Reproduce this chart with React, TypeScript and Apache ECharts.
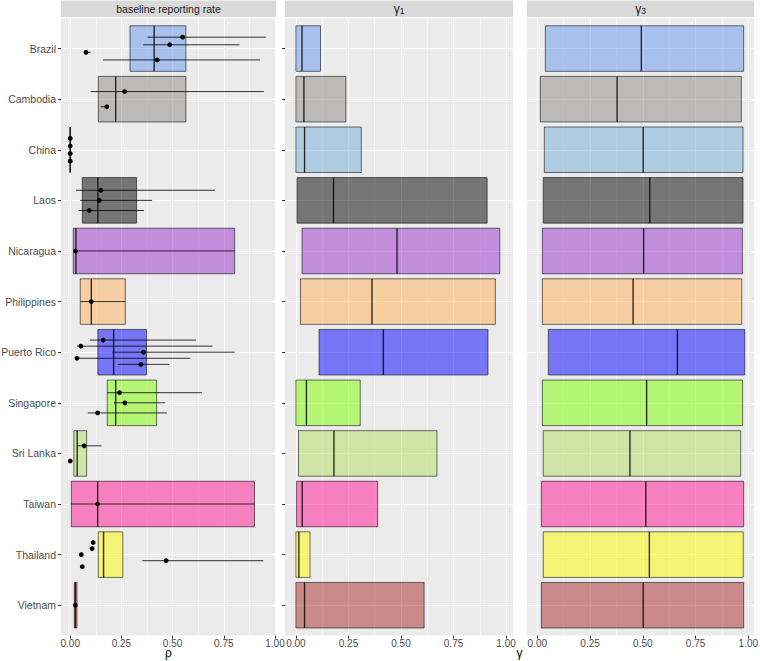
import React, { useEffect, useRef } from "react";
import * as echarts from "echarts";

const countries = [
  "Brazil", "Cambodia", "China", "Laos", "Nicaragua", "Philippines",
  "Puerto Rico", "Singapore", "Sri Lanka", "Taiwan", "Thailand", "Vietnam",
];
const fillColors = [
  "#6495ED", "#8D8985", "#75ADD5", "#000000", "#9932CC", "#FFB45A",
  "#0000FF", "#7FFF00", "#B5DD65", "#FF1493", "#FFFF00", "#A52A2A",
];

// baseline reporting rate (rho) boxes
const rhoBoxLow = [0.292, 0.137, 0, 0.059, 0.015, 0.049, 0.135, 0.181, 0.018, 0.005, 0.137, 0.02];
const rhoBoxHigh = [0.565, 0.565, 0, 0.324, 0.803, 0.269, 0.373, 0.422, 0.08, 0.9, 0.257, 0.033];
const rhoBoxMedian = [0.41, 0.222, 0, 0.135, 0.028, 0.103, 0.212, 0.222, 0.034, 0.134, 0.163, 0.025];

// per-country estimates of rho with intervals
const rhoEstimate = [
  [0.549, 0.486, 0.077, 0.425],
  [0.266, 0.179],
  [0, 0, 0, 0],
  [0.15, 0.142, 0.093],
  [0.026],
  [0.103],
  [0.161, 0.052, 0.358, 0.033, 0.345],
  [0.241, 0.267, 0.134],
  [0.068, 0.0],
  [0.134],
  [0.112, 0.107, 0.054, 0.468, 0.059],
  [0.025],
];
const rhoLower = [
  [0.378, 0.357, 0.067, 0.16],
  [0.1, 0.149],
  [0, 0, 0, 0],
  [0.028, 0.049, 0.041],
  [0.015],
  [0.049],
  [0.096, 0.034, 0.205, 0.028, 0.234],
  [0.181, 0.213, 0.086],
  [0.036, 0.0],
  [0.005],
  [0.112, 0.107, 0.054, 0.352, 0.059],
  [0.02],
];
const rhoUpper = [
  [0.955, 0.827, 0.1, 0.927],
  [0.946, 0.18],
  [0, 0, 0, 0],
  [0.707, 0.4, 0.36],
  [0.803],
  [0.269],
  [0.614, 0.694, 0.803, 0.586, 0.484],
  [0.643, 0.464, 0.472],
  [0.153, 0.0],
  [0.9],
  [0.112, 0.107, 0.054, 0.943, 0.059],
  [0.033],
];

// gamma1 boxes
const g1Low = [0, 0, 0, 0.005, 0.029, 0.022, 0.11, 0, 0.012, 0.003, 0, 0];
const g1High = [0.117, 0.238, 0.311, 0.91, 0.97, 0.949, 0.914, 0.306, 0.671, 0.389, 0.067, 0.61];
const g1Median = [0.029, 0.038, 0.041, 0.179, 0.481, 0.362, 0.416, 0.05, 0.181, 0.03, 0.014, 0.041];

// gamma3 boxes
const g3Low = [0.038, 0.014, 0.033, 0.028, 0.024, 0.024, 0.052, 0.024, 0.028, 0.019, 0.028, 0.019];
const g3High = [0.978, 0.967, 0.975, 0.975, 0.972, 0.969, 0.983, 0.973, 0.964, 0.978, 0.976, 0.978];
const g3Median = [0.493, 0.378, 0.502, 0.533, 0.504, 0.454, 0.664, 0.518, 0.439, 0.514, 0.531, 0.502];

const xMajor = [0, 0.25, 0.5, 0.75, 1];
const xMinor = [0.125, 0.375, 0.625, 0.875];
const panelTitles = ["baseline reporting rate", "{g|γ}{s|1}", "{g|γ}{s|3}"];

const FONT = "'Liberation Sans', Arial, sans-serif";

function rgba(hex: string, a: number) {
  const n = parseInt(hex.slice(1), 16);
  return `rgba(${(n >> 16) & 255},${(n >> 8) & 255},${n & 255},${a})`;
}

const panels = [
  { left: 61, width: 215, min: -0.045, max: 1.005 },
  { left: 285, width: 228, min: -0.052, max: 1.033 },
  { left: 527, width: 227, min: -0.049, max: 1.027 },
];
const TOP = 18.2;
const HEIGHT = 617.4;
const catIdx = countries.map((_, i) => i);

export default function App() {
  const ref = useRef<HTMLDivElement>(null);
  useEffect(() => {
    if (!ref.current) return;
    const chart = echarts.init(ref.current, undefined, { renderer: "svg" });

    const grids = panels.map((p) => ({
      left: p.left,
      top: TOP,
      width: p.width,
      height: HEIGHT,
      show: true,
      backgroundColor: "#EBEBEB",
      borderWidth: 0,
      containLabel: false,
      outerBoundsMode: "none",
    }));

    const xAxes: any[] = [];
    const yAxes: any[] = [];
    panels.forEach((p, i) => {
      xAxes.push({
        gridIndex: i,
        type: "value",
        min: p.min,
        max: p.max,
        position: "bottom",
        axisLine: { show: false, onZero: false },
        axisTick: { show: true, length: 3, lineStyle: { color: "#333333", width: 1 }, customValues: xMajor },
        axisLabel: {
          customValues: xMajor,
          formatter: (v: number) => v.toFixed(2),
          color: "#4D4D4D",
          fontSize: 10,
          fontFamily: FONT,
          margin: 2.5,
        },
        splitLine: { show: true, lineStyle: { color: "#FFFFFF", width: 1.1 } },
      });
    });
    panels.forEach((p, i) => {
      xAxes.push({
        gridIndex: i,
        type: "value",
        min: p.min,
        max: p.max,
        position: "top",
        axisLine: { show: false, onZero: false },
        axisTick: { show: false, customValues: xMinor },
        axisLabel: { show: false, customValues: xMinor },
        splitLine: { show: true, lineStyle: { color: "#FFFFFF", width: 0.5 } },
      });
    });
    panels.forEach((p, i) => {
      yAxes.push({
        gridIndex: i,
        type: "value",
        inverse: true,
        min: -0.6,
        max: 11.6,
        axisLine: { show: false, onZero: false },
        axisTick: {
          show: i < 2,
          length: 3,
          lineStyle: { color: "#333333", width: 1 },
          customValues: catIdx,
        },
        axisLabel: {
          show: i === 0,
          customValues: catIdx,
          formatter: (v: number) => countries[Math.round(v)] ?? "",
          color: "#4D4D4D",
          fontSize: 10.5,
          fontFamily: FONT,
          margin: 5,
        },
        splitLine: { show: true, lineStyle: { color: "#FFFFFF", width: 1.1 } },
      });
    });

    const boxSeries = (i: number, lo: number[], hi: number[], med: number[]) => ({
      type: "custom",
      xAxisIndex: i,
      yAxisIndex: i,
      data: countries.map((_, k) => [lo[k], hi[k], med[k], k]),
      renderItem: (params: any, api: any) => {
        const l = api.value(0), h = api.value(1), m = api.value(2), k = api.value(3);
        const p1 = api.coord([l, k - 0.45]);
        const p2 = api.coord([h, k + 0.45]);
        const m1 = api.coord([m, k - 0.45]);
        const m2 = api.coord([m, k + 0.45]);
        const x = Math.min(p1[0], p2[0]);
        const y = Math.min(p1[1], p2[1]);
        return {
          type: "group",
          children: [
            {
              type: "rect",
              shape: { x, y, width: Math.abs(p2[0] - p1[0]), height: Math.abs(p2[1] - p1[1]) },
              style: { fill: rgba(fillColors[params.dataIndex], 0.5), stroke: "rgba(0,0,0,0.55)", lineWidth: 1 },
            },
            {
              type: "line",
              shape: { x1: m1[0], y1: m1[1], x2: m2[0], y2: m2[1] },
              style: { stroke: "rgba(0,0,0,0.8)", lineWidth: 1.4 },
            },
          ],
        };
      },
    });

    const pointData: number[][] = [];
    rhoEstimate.forEach((arr, k) => {
      const n = arr.length;
      arr.forEach((est, j) => {
        const off = -0.3 + (0.6 / n) * (j + 0.5);
        pointData.push([est, rhoLower[k][j], rhoUpper[k][j], k + off]);
      });
    });

    const pointSeries = {
      type: "custom",
      xAxisIndex: 0,
      yAxisIndex: 0,
      data: pointData,
      renderItem: (params: any, api: any) => {
        const e = api.value(0), l = api.value(1), h = api.value(2), y = api.value(3);
        const pe = api.coord([e, y]);
        const pl = api.coord([l, y]);
        const ph = api.coord([h, y]);
        return {
          type: "group",
          children: [
            {
              type: "line",
              shape: { x1: pl[0], y1: pl[1], x2: ph[0], y2: ph[1] },
              style: { stroke: "rgba(0,0,0,0.8)", lineWidth: 1 },
            },
            {
              type: "circle",
              shape: { cx: pe[0], cy: pe[1], r: 2.4 },
              style: { fill: "#000000" },
            },
          ],
        };
      },
    };

    const graphics: any[] = [];
    panels.forEach((p, i) => {
      graphics.push({
        type: "rect",
        shape: { x: p.left, y: 0.5, width: p.width, height: 16.5 },
        style: { fill: "#D9D9D9" },
      });
      graphics.push({
        type: "text",
        style: {
          text: panelTitles[i],
          x: p.left + p.width / 2,
          y: 9,
          align: "center",
          verticalAlign: "middle",
          textAlign: "center",
          textVerticalAlign: "middle",
          fill: "#1A1A1A",
          fontSize: 10.5,
          fontFamily: FONT,
          rich: {
            g: { fontSize: 12, lineHeight: 13, fill: "#1A1A1A", fontFamily: FONT },
            s: { fontSize: 8.5, lineHeight: 9, verticalAlign: "bottom", fill: "#1A1A1A", fontFamily: FONT },
          },
        },
      });
    });
    graphics.push({
      type: "text",
      style: {
        text: "ρ",
        x: panels[0].left + panels[0].width / 2,
        y: 653,
        align: "center",
        verticalAlign: "middle",
        textAlign: "center",
        textVerticalAlign: "middle",
        fill: "#000000",
        fontSize: 12,
        fontFamily: FONT,
      },
    });
    graphics.push({
      type: "text",
      style: {
        text: "γ",
        x: (panels[1].left + panels[2].left + panels[2].width) / 2,
        y: 653,
        align: "center",
        verticalAlign: "middle",
        textAlign: "center",
        textVerticalAlign: "middle",
        fill: "#000000",
        fontSize: 12,
        fontFamily: FONT,
      },
    });

    chart.setOption({
      animation: false,
      backgroundColor: "#FFFFFF",
      grid: grids,
      xAxis: xAxes,
      yAxis: yAxes,
      series: [
        boxSeries(0, rhoBoxLow, rhoBoxHigh, rhoBoxMedian),
        pointSeries,
        boxSeries(1, g1Low, g1High, g1Median),
        boxSeries(2, g3Low, g3High, g3Median),
      ],
      graphic: graphics,
    });

    return () => chart.dispose();
  }, []);

  return (
    <div
      ref={ref}
      style={{ position: "fixed", left: 0, top: 0, width: 760, height: 661 }}
    />
  );
}
